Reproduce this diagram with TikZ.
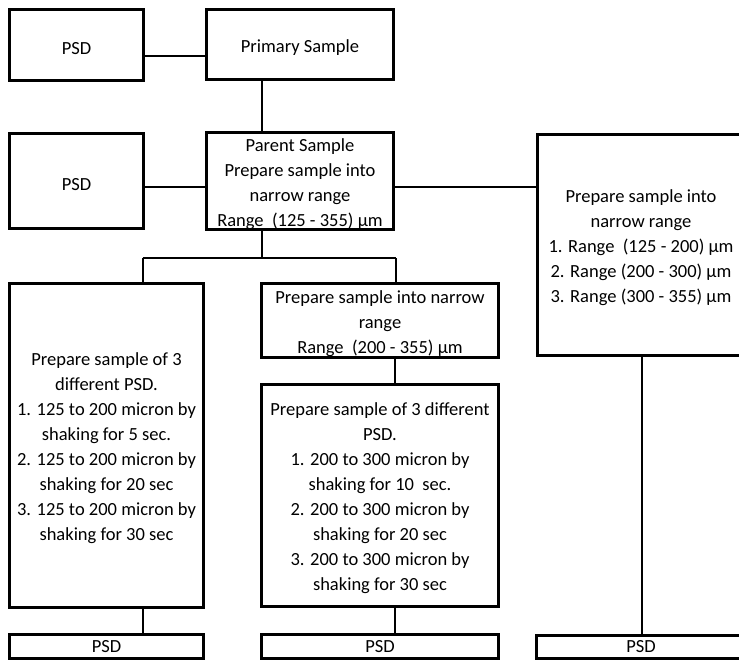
\documentclass[tikz,border=0pt]{standalone}
\usepackage{fontspec}
\setmainfont{Carlito}
\newcommand\tstrut{\rule{0pt}{18.5pt}}
\begin{document}
\begin{tikzpicture}[x=1pt,y=-1pt,
  box/.style={draw=black,line width=3pt,rectangle,inner sep=0pt,align=center,
    font=\fontsize{18.5}{25}\selectfont,text=black},
  conn/.style={draw=black,line width=2pt}]
\clip (0,0) rectangle (739,663);
\useasboundingbox (0,0) rectangle (739,663);
% boxes
\node[box,minimum width=134pt,minimum height=71pt] (psdA) at (76.5,45) {\tstrut PSD};
\node[box,minimum width=187pt,minimum height=70pt] (prim) at (300,44.5) {\tstrut Primary Sample};
\node[box,minimum width=134pt,minimum height=95pt] (psdB) at (76.5,181) {\tstrut PSD};
\node[box,minimum width=187pt,minimum height=95pt] (parent) at (300,181)
  {\tstrut Parent Sample\\Prepare sample into\\narrow range\\Range\ \ (125 - 355) µm};
\node[box,minimum width=207pt,minimum height=221pt] (right) at (641,245)
  {\tstrut Prepare sample into\\narrow range\\1. Range\ \ (125 - 200) µm\\2. Range (200 - 300) µm\\3. Range (300 - 355) µm};
\node[box,minimum width=194pt,minimum height=324pt] (left) at (106.5,445.5)
  {\tstrut Prepare sample of 3\\different PSD.\\1. 125 to 200 micron by\\shaking for 5 sec.\\2. 125 to 200 micron by\\shaking for 20 sec\\3. 125 to 200 micron by\\shaking for 30 sec};
\node[box,minimum width=237pt,minimum height=74pt] (midtop) at (380,320.5)
  {\tstrut Prepare sample into narrow\\range\\Range\ \ (200 - 355) µm};
\node[box,minimum width=237pt,minimum height=222pt] (midbot) at (380,495.5)
  {\tstrut Prepare sample of 3 different\\PSD.\\1. 200 to 300 micron by\\shaking for 10\ \ sec.\\2. 200 to 300 micron by\\shaking for 20 sec\\3. 200 to 300 micron by\\shaking for 30 sec};
\node[box,minimum width=194pt,minimum height=24pt] (psdL) at (106.5,646.5) {PSD};
\node[box,minimum width=237pt,minimum height=24pt] (psdM) at (380,646.5) {PSD};
\node[box,minimum width=209pt,minimum height=23pt] (psdR) at (641,647) {PSD};
% junction coordinates
\coordinate (jc) at (262,258);
\coordinate (jl) at (142.5,258);
\coordinate (jr) at (396,258);
% connectors
\draw[conn] (psdA.east |- 0,56) -- (prim.west |- 0,56);
\draw[conn] (prim.south -| jc) -- (parent.north -| jc);
\draw[conn] (psdB.east |- 0,187) -- (parent.west |- 0,187);
\draw[conn] (parent.east |- 0,187) -- (right.west |- 0,187);
\draw[conn] (parent.south -| jc) -- (jc);
\draw[conn] (jl) -- (jr);
\draw[conn] (jl) -- (left.north -| jl);
\draw[conn] (jr) -- (midtop.north -| jr);
\draw[conn] (midtop.south -| 395,0) -- (midbot.north -| 395,0);
\draw[conn] (midbot.south -| 395,0) -- (psdM.north -| 395,0);
\draw[conn] (left.south -| 143,0) -- (psdL.north -| 143,0);
\draw[conn] (right.south -| 642,0) -- (psdR.north -| 642,0);
\end{tikzpicture}
\end{document}
